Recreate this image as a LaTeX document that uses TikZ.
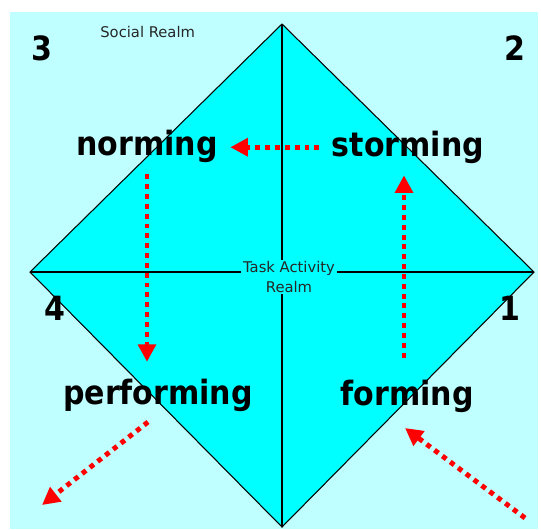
\documentclass[tikz,border=0pt]{standalone}
\usepackage{fontspec}
\setmainfont{DejaVu Sans}
\newfontfamily\stagefont{DejaVu Sans Condensed}
\usetikzlibrary{arrows.meta}
\definecolor{realmBg}{RGB}{192,255,255}
\definecolor{taskCyan}{RGB}{0,255,255}
\definecolor{stageRed}{RGB}{255,0,0}

\begin{document}
\begin{tikzpicture}[x=0.02cm,y=-0.02cm,
  stage/.style={font=\stagefont\bfseries\fontsize{19}{22}\selectfont,inner sep=0pt,anchor=base},
  quadrant/.style={font=\stagefont\bfseries\fontsize{19}{22}\selectfont,inner sep=0pt,anchor=base},
  realm/.style={font=\fontsize{8.4}{10}\selectfont,text=black!85,inner sep=0pt},
  flow/.style={-{Triangle[length=10pt,width=10pt]},stageRed,line width=2.8pt,
    dash pattern=on 2.8pt off 2.8pt}]
  \useasboundingbox (0,0) rectangle (541,529);
  \fill[realmBg] (10,12) rectangle (538,529);
  % diamond and axes
  \filldraw[fill=taskCyan,draw=black,line width=0.6pt]
    (282,24) -- (534,272) -- (282,527) -- (30,272) -- cycle;
  \draw[line width=1.3pt] (30,272) -- (534,272);
  \draw[line width=1.3pt] (282,24) -- (282,527);
  \node[realm,fill=taskCyan,align=center,inner sep=1pt] (task) at (289,277)
    {Task Activity\\[1pt]Realm};
  \node[realm,anchor=north west] (social) at (100,26) {Social Realm};
  % quadrant numbers
  \node[quadrant] (q3) at (42,60) {3};
  \node[quadrant] (q2) at (515,60) {2};
  \node[quadrant] (q4) at (55,320) {4};
  \node[quadrant] (q1) at (510,320) {1};
  % stages
  \node[stage] (norming) at (147,155) {norming};
  \node[stage] (storming) at (408,156) {storming};
  \node[stage] (performing) at (158,404) {performing};
  \node[stage] (forming) at (407,405) {forming};
  \coordinate (entry) at (525,518);
  \coordinate (formingIn) at (405,428);
  \coordinate (performingOut) at (148,422);
  \coordinate (exit) at (42,505);
  % flows
  \draw[flow] ([xshift=-7pt,yshift=5pt]storming.base west) -- ([xshift=7pt,yshift=5pt]storming.base west -| norming.base east);
  \draw[flow] ([yshift=-11pt]norming.base) -- ([yshift=24pt]norming.base |- performing.base);
  \draw[flow] ([yshift=27pt]forming.base -| 404,0) -- ([yshift=-11pt]storming.base -| 404,0);
  \draw[flow] (entry) -- (formingIn);
  \draw[flow] (performingOut) -- (exit);
\end{tikzpicture}
\end{document}
